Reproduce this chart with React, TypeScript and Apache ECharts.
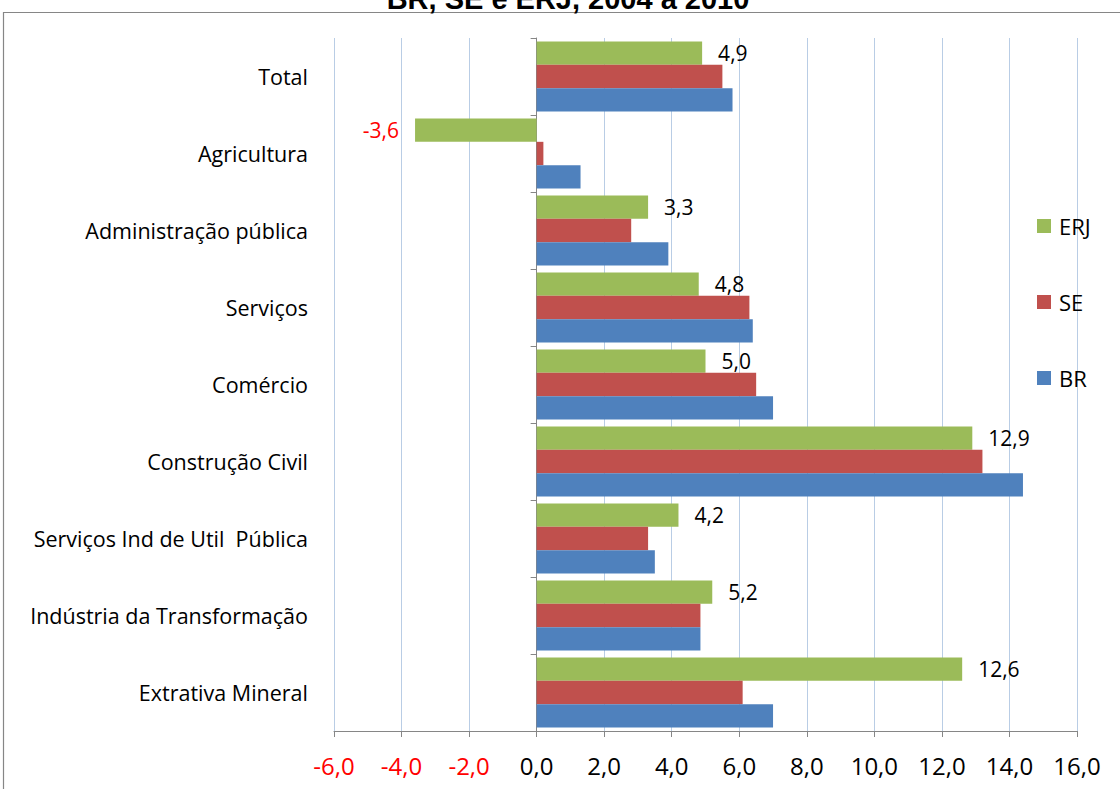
import React, { useEffect, useRef } from "react";
import * as echarts from "echarts";

const categories = [
  "Extrativa Mineral",
  "Indústria da Transformação",
  "Serviços Ind de Util  Pública",
  "Construção Civil",
  "Comércio",
  "Serviços",
  "Administração pública",
  "Agricultura",
  "Total",
];
const brValues = [7.0, 4.85, 3.5, 14.4, 7.0, 6.4, 3.9, 1.3, 5.8];
const seValues = [6.1, 4.85, 3.3, 13.2, 6.5, 6.3, 2.8, 0.2, 5.5];
const erjValues = [12.6, 5.2, 4.2, 12.9, 5.0, 4.8, 3.3, -3.6, 4.9];
const seriesNames = ["ERJ", "SE", "BR"];
const xMin = -6;
const xMax = 16;
const xInterval = 2;
const titleText = "BR, SE e ERJ, 2004 a 2010";

const FONT = "'Open Sans', 'Noto Sans', sans-serif";
const fmt = (v: number) => v.toFixed(1).replace(".", ",");

export default function App() {
  const ref = useRef<HTMLDivElement>(null);
  useEffect(() => {
    if (!ref.current) return;
    const chart = echarts.init(ref.current, undefined, { renderer: "svg" });
    chart.setOption({
      animation: false,
      backgroundColor: "#ffffff",
      textStyle: { fontFamily: FONT },
      graphic: [
        {
          type: "rect",
          shape: { x: 3.5, y: 12.5, width: 1200, height: 900 },
          style: { fill: "none", stroke: "#868686", lineWidth: 1.2 },
          silent: true,
        },
        {
          type: "text",
          x: 568,
          y: -1,
          style: {
            text: titleText,
            font: "bold 29px 'Liberation Sans', Arial, sans-serif",
            fill: "#000",
            align: "center",
            verticalAlign: "middle",
          },
          silent: true,
        },
      ],
      legend: {
        data: seriesNames,
        orient: "vertical",
        left: 1032,
        top: 210,
        itemWidth: 14,
        itemHeight: 14,
        itemGap: 54,
        icon: "rect",
        textStyle: { fontSize: 22, color: "#000", fontFamily: FONT, padding: [0, 0, 0, 3] },
      },
      grid: { left: 334, right: 43, top: 38, bottom: 58, containLabel: false },
      xAxis: {
        type: "value",
        min: xMin,
        max: xMax,
        interval: xInterval,
        axisLine: { show: true, onZero: false, lineStyle: { color: "#868686", width: 1 } },
        axisTick: { show: true, length: 6, lineStyle: { color: "#868686" } },
        splitLine: { show: true, lineStyle: { color: "#B9CDE5", width: 1 } },
        axisLabel: {
          margin: 22,
          fontSize: 24,
          fontFamily: FONT,
          formatter: (v: number) => fmt(v),
          color: (v: any) => (Number(v) < 0 ? "#FF0000" : "#000000"),
        },
      },
      yAxis: [
        {
          type: "category",
          data: categories,
          position: "left",
          axisLine: { show: false, onZero: false },
          axisTick: { show: false },
          axisLabel: { margin: 26, fontSize: 21.5, color: "#000", fontFamily: FONT },
        },
        {
          type: "category",
          data: categories,
          position: "left",
          axisLine: { show: true, onZero: true, lineStyle: { color: "#868686", width: 1 } },
          axisTick: { show: true, length: 6, lineStyle: { color: "#868686" } },
          axisLabel: { show: false },
          splitLine: { show: false },
        },
      ],
      series: [
        {
          name: "ERJ",
          type: "bar",
          data: erjValues.map((v) => ({
            value: v,
            label: {
              position: v < 0 ? "left" : "right",
              color: v < 0 ? "#FF0000" : "#000000",
            },
          })),
          itemStyle: { color: "#9BBB59" },
          barGap: "0%",
          barCategoryGap: "9%",
          label: {
            show: true,
            distance: 16,
            fontSize: 21,
            fontFamily: FONT,
            formatter: (p: any) => fmt(p.value),
          },
        },
        {
          name: "SE",
          type: "bar",
          data: seValues,
          itemStyle: { color: "#C0504D" },
          barGap: "0%",
          barCategoryGap: "9%",
        },
        {
          name: "BR",
          type: "bar",
          data: brValues,
          itemStyle: { color: "#4F81BD" },
          barGap: "0%",
          barCategoryGap: "9%",
        },
      ],
    });
    return () => chart.dispose();
  }, []);
  return (
    <div
      ref={ref}
      style={{ position: "fixed", left: 0, top: 0, width: 1120, height: 789 }}
    />
  );
}
